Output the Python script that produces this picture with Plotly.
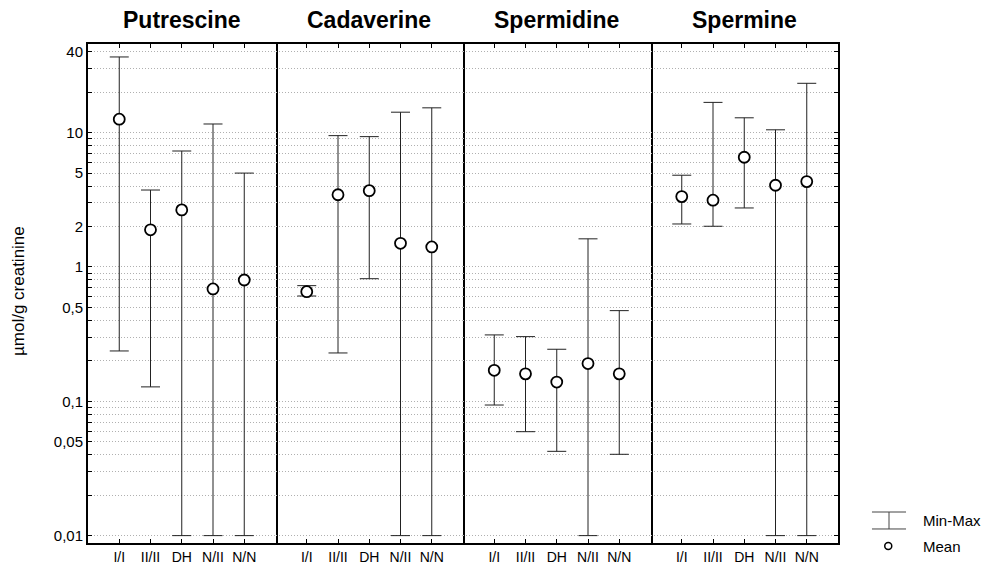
import plotly.graph_objects as go
from plotly.subplots import make_subplots

# ---- data ----
amines = ["Putrescine", "Cadaverine", "Spermidine", "Spermine"]
groups = ["I/I", "II/II", "DH", "N/II", "N/N"]

mean_put = [12.6, 1.89, 2.66, 0.686, 0.80]
min_put = [0.237, 0.128, 0.01, 0.01, 0.01]
max_put = [36.6, 3.74, 7.3, 11.6, 5.0]

mean_cad = [0.655, 3.45, 3.70, 1.50, 1.41]
min_cad = [0.608, 0.229, 0.818, 0.01, 0.01]
max_cad = [0.726, 9.5, 9.34, 14.2, 15.3]

mean_spd = [0.170, 0.160, 0.139, 0.191, 0.160]
min_spd = [0.0938, 0.0594, 0.0424, 0.01, 0.0403]
max_spd = [0.312, 0.303, 0.244, 1.62, 0.473]

mean_spm = [3.34, 3.14, 6.56, 4.06, 4.32]
min_spm = [2.09, 2.01, 2.75, 0.01, 0.01]
max_spm = [4.82, 16.8, 12.9, 10.5, 23.3]

means = [mean_put, mean_cad, mean_spd, mean_spm]
mins = [min_put, min_cad, min_spd, min_spm]
maxs = [max_put, max_cad, max_spd, max_spm]

y_tick_vals = ([k * 0.01 for k in range(1, 10)] + [k * 0.1 for k in range(1, 10)]
               + list(range(1, 10)) + [10, 20, 30, 40])
y_labels = {0.01: "0,01", 0.05: "0,05", 0.1: "0,1", 0.5: "0,5", 1: "1", 2: "2",
            5: "5", 10: "10", 40: "40"}
y_tick_text = []
for v in y_tick_vals:
    lab = ""
    for k, t in y_labels.items():
        if abs(v - k) < 1e-9:
            lab = t
    y_tick_text.append(lab)

FONT = "Liberation Sans, Arial, sans-serif"

fig = make_subplots(rows=1, cols=4, shared_yaxes=True, horizontal_spacing=0)

xpos = [1, 2, 3, 4, 5]
for i in range(4):
    m = means[i]
    up = [mx - mm for mx, mm in zip(maxs[i], m)]
    dn = [mm - mn for mm, mn in zip(m, mins[i])]
    fig.add_trace(go.Scatter(
        x=xpos, y=m, mode="markers",
        marker=dict(symbol="circle", size=11, color="white",
                    line=dict(color="black", width=1.8)),
        error_y=dict(type="data", symmetric=False, array=up, arrayminus=dn,
                     color="#222222", thickness=1, width=9.5),
        showlegend=False, cliponaxis=False,
    ), row=1, col=i + 1)

for i in range(4):
    c = i + 1
    fig.update_xaxes(
        range=[0, 6], tickvals=xpos, ticktext=groups,
        showline=True, linecolor="black", linewidth=2, mirror="allticks",
        ticks="inside", ticklen=4, tickcolor="black",
        showgrid=False, zeroline=False, automargin=False,
        tickfont=dict(family=FONT, size=14, color="black"),
        domain=[i * 0.25, (i + 1) * 0.25],
        row=1, col=c)
    yargs = dict(
        type="log", range=[-2.055, 1.660],
        tickvals=y_tick_vals, ticktext=y_tick_text,
        showline=True, linecolor="black", linewidth=2,
        showgrid=True, gridcolor="#b0b0b0", griddash="1px,2px", gridwidth=1,
        zeroline=False, automargin=False,
        tickfont=dict(family=FONT, size=15, color="black"),
    )
    if i == 0:
        yargs.update(side="left", mirror=True, ticks="inside", ticklen=4,
                     tickcolor="black", showticklabels=True)
    elif i == 3:
        yargs.update(side="right", mirror=False, ticks="inside", ticklen=4,
                     tickcolor="black", showticklabels=False)
    else:
        yargs.update(side="right", mirror=False, ticks="", showticklabels=False)
    fig.update_yaxes(**yargs, row=1, col=c)

annotations = []
for i, name in enumerate(amines):
    annotations.append(dict(
        text="<b>" + name + "</b>", x=(i + 0.5) * 0.25, y=1.048,
        xref="paper", yref="paper", xanchor="center", yanchor="middle",
        showarrow=False, font=dict(family=FONT, size=23, color="black")))

annotations.append(dict(
    text="µmol/g creatinine", x=-0.0933, y=0.505, xref="paper", yref="paper",
    textangle=-90, xanchor="center", yanchor="middle", showarrow=False,
    font=dict(family=FONT, size=17, color="black")))

# legend (drawn in paper coordinates)
annotations.append(dict(text="Min-Max", x=1.111, y=0.046, xref="paper", yref="paper",
                        xanchor="left", yanchor="middle", showarrow=False,
                        font=dict(family=FONT, size=15, color="black")))
annotations.append(dict(text="Mean", x=1.111, y=-0.008, xref="paper", yref="paper",
                        xanchor="left", yanchor="middle", showarrow=False,
                        font=dict(family=FONT, size=15, color="black")))

shapes = [
    dict(type="line", xref="paper", yref="paper", x0=1.0453, x1=1.0907, y0=0.0621, y1=0.0621,
         line=dict(color="#444", width=1)),
    dict(type="line", xref="paper", yref="paper", x0=1.0453, x1=1.0907, y0=0.0281, y1=0.0281,
         line=dict(color="#444", width=1)),
    dict(type="line", xref="paper", yref="paper", x0=1.068, x1=1.068, y0=0.0281, y1=0.0621,
         line=dict(color="#444", width=1)),
    dict(type="circle", xref="paper", yref="paper", xsizemode="pixel", ysizemode="pixel",
         xanchor=1.067, yanchor=-0.006, x0=-3.5, x1=3.5, y0=-3.5, y1=3.5,
         line=dict(color="black", width=1.5)),
]

fig.update_layout(
    width=1001, height=567,
    margin=dict(l=88, r=163, t=44, b=24, autoexpand=False),
    paper_bgcolor="white", plot_bgcolor="white",
    annotations=annotations, shapes=shapes,
    showlegend=False,
    font=dict(family=FONT, color="black"),
)

fig.write_html("out.html", config={"displayModeBar": False},
               post_script="document.body.style.margin='0px';document.body.style.overflow='hidden';")
